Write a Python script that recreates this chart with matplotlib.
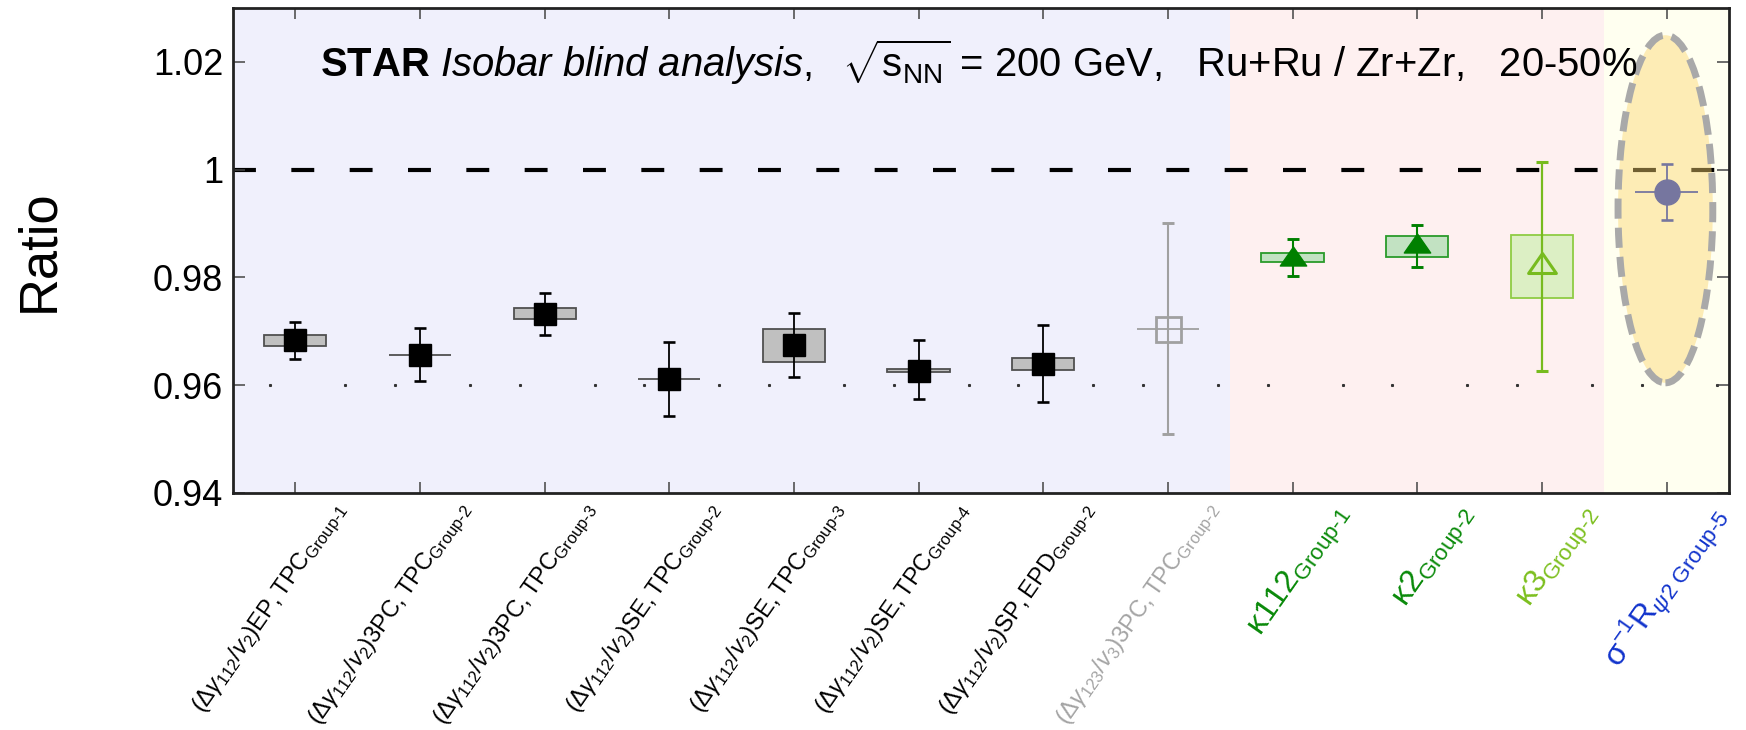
import numpy as np
import matplotlib
matplotlib.use('Agg')
import matplotlib.pyplot as plt
from matplotlib.patches import Rectangle, Ellipse
from matplotlib.path import Path
import matplotlib.transforms as mtransforms
from matplotlib import font_manager

_names = {f.name for f in font_manager.fontManager.ttflist}
NARROW = 'Liberation Sans Narrow' in _names
BASE = 'Liberation Sans Narrow' if NARROW else 'Liberation Sans'
K = 1.0 if NARROW else 0.84   # size compensation when no condensed face

plt.rcParams['font.family'] = [BASE, 'Liberation Sans', 'DejaVu Sans']
plt.rcParams['mathtext.fontset'] = 'custom'
plt.rcParams['mathtext.rm'] = BASE
plt.rcParams['mathtext.it'] = BASE + ':italic'
plt.rcParams['mathtext.bf'] = BASE + ':bold'
plt.rcParams['mathtext.sf'] = BASE

# ---------------- data ----------------
labels = [
    r'$(\Delta\gamma_{112}/v_{2})\mathrm{EP,TPC}_{\mathrm{Group\text{-}1}}$',
    r'$(\Delta\gamma_{112}/v_{2})\mathrm{3PC,TPC}_{\mathrm{Group\text{-}2}}$',
    r'$(\Delta\gamma_{112}/v_{2})\mathrm{3PC,TPC}_{\mathrm{Group\text{-}3}}$',
    r'$(\Delta\gamma_{112}/v_{2})\mathrm{SE,TPC}_{\mathrm{Group\text{-}2}}$',
    r'$(\Delta\gamma_{112}/v_{2})\mathrm{SE,TPC}_{\mathrm{Group\text{-}3}}$',
    r'$(\Delta\gamma_{112}/v_{2})\mathrm{SE,TPC}_{\mathrm{Group\text{-}4}}$',
    r'$(\Delta\gamma_{112}/v_{2})\mathrm{SP,EPD}_{\mathrm{Group\text{-}2}}$',
    r'$(\Delta\gamma_{123}/v_{3})\mathrm{3PC,TPC}_{\mathrm{Group\text{-}2}}$',
    r'$\mathrm{\kappa112}_{\mathrm{Group\text{-}1}}$',
    r'$\mathrm{\kappa2}_{\mathrm{Group\text{-}2}}$',
    r'$\mathrm{\kappa3}_{\mathrm{Group\text{-}2}}$',
    r'$\mathrm{\sigma}^{-1}\mathrm{R}_{\psi 2\ \mathrm{Group\text{-}5}}$',
]
label_colors = ['black'] * 7 + ['#a4a4a4', '#0a8a0a', '#0a8a0a', '#7cbf1e', '#1133cc']
label_sizes = [17] * 8 + [23, 23, 23, 23]

values = [0.9684, 0.9657, 0.9733, 0.9611, 0.9674, 0.9627, 0.9640, 0.9705,
          0.9839, 0.9863, 0.9826, 0.9959]
stat_hi = [0.9717, 0.9707, 0.9772, 0.9680, 0.9734, 0.9683, 0.9712, 0.9901,
           0.9872, 0.9897, 1.0015, 1.0011]
stat_lo = [0.9649, 0.9608, 0.9694, 0.9542, 0.9616, 0.9574, 0.9568, 0.9510,
           0.9803, 0.9819, 0.9626, 0.9907]
sys_hi = [0.9693, 0.9657, 0.9743, 0.9611, 0.9705, 0.9631, 0.9651, 0.9705,
          0.9846, 0.9877, 0.9879, 0.9959]
sys_lo = [0.9673, 0.9657, 0.9722, 0.9611, 0.9644, 0.9625, 0.9628, 0.9705,
          0.9828, 0.9838, 0.9762, 0.9959]

title = (r'$\mathbf{STAR}$ $\mathit{Isobar\ blind\ analysis,}$  '
         r'$\sqrt{\mathrm{s}_{\mathrm{NN}}}$ = 200 GeV,   Ru+Ru / Zr+Zr,   20-50%')

# ---------------- styles ----------------
tri = Path([(-1, -0.72), (1, -0.72), (0, 0.72), (-1, -0.72)],
           [Path.MOVETO, Path.LINETO, Path.LINETO, Path.CLOSEPOLY])
styles = []
for i in range(7):
    styles.append(dict(marker='s', ms=16, mfc='black', mec='black', mew=1,
                       ecol='black', bface='#c0c0c0', bedge='#505050', elw=1.3))
styles.append(dict(marker='s', ms=18, mfc='none', mec='#a0a0a0', mew=2,
                   ecol='#a0a0a0', bface='none', bedge='#a0a0a0', elw=1.5))
styles.append(dict(marker=tri, ms=19, mfc='#008000', mec='#008000', mew=1,
                   ecol='#008000', bface='#c2e2c2', bedge='#2a9a2a', elw=1.5))
styles.append(dict(marker=tri, ms=19, mfc='#008000', mec='#008000', mew=1,
                   ecol='#008000', bface='#c2e2c2', bedge='#2a9a2a', elw=1.5))
styles.append(dict(marker=tri, ms=20, mfc='none', mec='#77bb1e', mew=2.2,
                   ecol='#77bb1e', bface='#dcefc4', bedge='#8fcc44', elw=1.6))
styles.append(dict(marker='o', ms=18, mfc='#76769f', mec='#76769f', mew=1,
                   ecol='#76769f', bface='none', bedge='#76769f', elw=1.3))

# ---------------- figure ----------------
fig = plt.figure(figsize=(17.46, 7.30), dpi=100)
ax = fig.add_axes([233 / 1746, 1 - 493 / 730, (1729 - 233) / 1746, (493 - 8) / 730])
n = len(values)
x = np.arange(n)
ax.set_xlim(-0.5, n - 0.5)
ax.set_ylim(0.94, 1.03)

# background bands
ax.axvspan(-0.5, 7.5, color='#f0f0fc', zorder=0, lw=0)
ax.axvspan(7.5, 10.5, color='#fef0f0', zorder=0, lw=0)
ax.axvspan(10.5, n - 0.5, color='#fffff0', zorder=0, lw=0)

# reference line at 1
ax.axhline(1.0, color='black', lw=3.0, ls=(0, (5.5, 8.5)), zorder=1)

# faint dots at 0.96
dots_x = np.sort(np.concatenate([x - 0.2, x + 0.4]))
dots_x = dots_x[(dots_x > -0.5) & (dots_x < n - 0.5)]
ax.plot(dots_x, np.full_like(dots_x, 0.96), ls='none', marker='s', ms=1.2,
        color='#333333', zorder=1)

# highlight ellipse around the last point
ax.add_patch(Ellipse((10.99, 0.9927), 0.76, 0.0645, facecolor='#fbd56d',
                     edgecolor='none', alpha=0.45, zorder=2))
ax.add_patch(Ellipse((10.99, 0.9927), 0.76, 0.0645, facecolor='none',
                     edgecolor='#a9a9a9', lw=5, ls=(0, (2.9, 1.3)), zorder=2.1))

# points
for i in range(n):
    st = styles[i]
    h = sys_hi[i] - sys_lo[i]
    ax.add_patch(Rectangle((x[i] - 0.25, sys_lo[i]), 0.5, h,
                           facecolor=st['bface'], edgecolor=st['bedge'],
                           lw=1.3, zorder=3))
    ax.errorbar([x[i]], [values[i]],
                yerr=[[values[i] - stat_lo[i]], [stat_hi[i] - values[i]]],
                fmt='none', ecolor=st['ecol'], elinewidth=st['elw'],
                capsize=4.5, capthick=st['elw'] + 0.6, zorder=4)
    ax.plot([x[i]], [values[i]], ls='none', marker=st['marker'], ms=st['ms'],
            mfc=st['mfc'], mec=st['mec'], mew=st['mew'], zorder=5)

# axes styling
for s in ax.spines.values():
    s.set_linewidth(2.0)
    s.set_color('#222222')
ax.set_yticks([0.94, 0.96, 0.98, 1.0, 1.02])
ax.set_yticklabels(['0.94', '0.96', '0.98', '1', '1.02'])
ax.tick_params(axis='y', direction='in', length=8.6, width=1.1, color='#444444',
               labelsize=31 * K, pad=7, right=True)
ax.set_xticks(x)
ax.set_xticklabels([])
ax.tick_params(axis='x', direction='in', length=8, width=1.1, color='#444444',
               top=True)

ax.set_ylabel('Ratio', fontsize=45 * K, labelpad=0)
ax.yaxis.set_label_coords(-0.113, 0.5)

# x labels (rotated)
off = mtransforms.ScaledTranslation(0.36, -0.05, fig.dpi_scale_trans)
trans = mtransforms.blended_transform_factory(ax.transData, ax.transAxes) + off
for i in range(n):
    ax.text(x[i], 0, labels[i], transform=trans, rotation=55,
            rotation_mode='anchor', ha='right', va='top',
            fontsize=label_sizes[i], color=label_colors[i])

# title
ax.text(0.058, 1.02, title, transform=mtransforms.blended_transform_factory(
    ax.transAxes, ax.transData), fontsize=34.3 * K, ha='left', va='center', zorder=6)

fig.savefig('out.png', dpi=100)
